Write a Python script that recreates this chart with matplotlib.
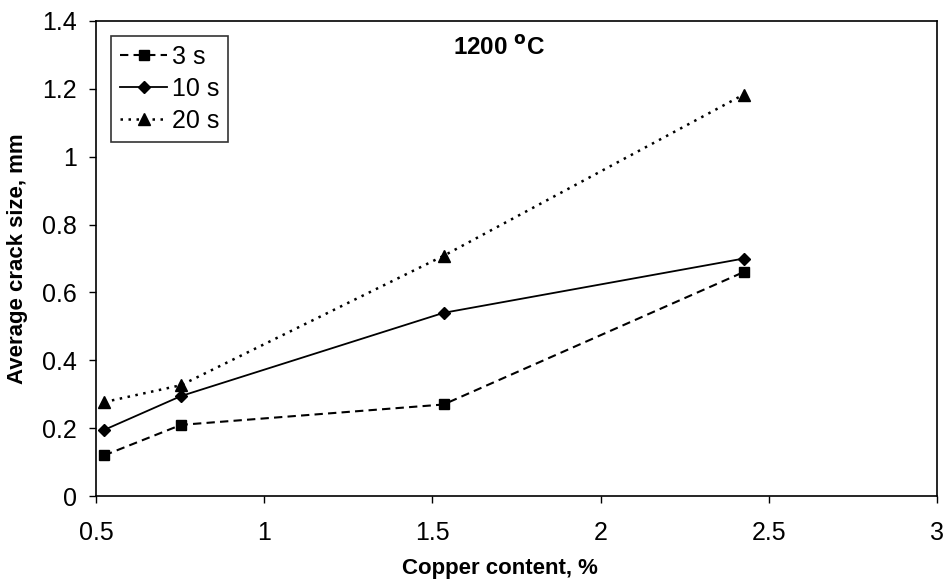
import matplotlib.pyplot as plt

plt.rcParams['font.family'] = ['Liberation Sans', 'DejaVu Sans']

# Copper content (%) and average crack size (mm) at 1200 C
copper = [0.524, 0.753, 1.533, 2.425]
crack_3s = [0.12, 0.21, 0.27, 0.66]
crack_10s = [0.195, 0.295, 0.54, 0.70]
crack_20s = [0.277, 0.327, 0.708, 1.183]

xticks = [0.5, 1, 1.5, 2, 2.5, 3]
yticks = [0, 0.2, 0.4, 0.6, 0.8, 1, 1.2, 1.4]
xtick_labels = ['0.5', '1', '1.5', '2', '2.5', '3']
ytick_labels = ['0', '0.2', '0.4', '0.6', '0.8', '1', '1.2', '1.4']

fig = plt.figure(figsize=(9.47, 5.83), dpi=100)
ax = fig.add_axes([0.1014, 0.149, 0.888, 0.815])

ax.plot(copper, crack_3s, color='black', linestyle=(0, (4, 2.5)), lw=1.5,
        marker='s', ms=7, label='3 s')
ax.plot(copper, crack_10s, color='black', linestyle='-', lw=1.3,
        marker='D', ms=6, label='10 s')
ax.plot(copper, crack_20s, color='black', linestyle=(0, (1, 2.2)), lw=1.8,
        marker='^', ms=8, label='20 s')

ax.set_xlim(0.5, 3)
ax.set_ylim(0, 1.4)
ax.set_xticks(xticks)
ax.set_xticklabels(xtick_labels)
ax.set_yticks(yticks)
ax.set_yticklabels(ytick_labels)
ax.tick_params(direction='out', length=5, width=1, labelsize=18)
ax.tick_params(axis='x', pad=13)
ax.tick_params(axis='y', pad=9)

for sp in ax.spines.values():
    sp.set_linewidth(1.2)

ax.set_xlabel('Copper content, %', fontsize=16, fontweight='bold', labelpad=6)
ax.xaxis.set_label_coords(0.48, -0.13)
ax.set_ylabel('Average crack size, mm', fontsize=16, fontweight='bold', labelpad=10)

ax.text(1.56, 1.3, '1200 $^{\\mathbf{o}}$C', fontsize=17.5, fontweight='bold')

leg = ax.legend(loc='upper left', fontsize=18, frameon=True, fancybox=False,
                handlelength=1.9, handletextpad=0.2, borderpad=0.35,
                labelspacing=0.33, borderaxespad=0.6)
leg.get_frame().set_edgecolor('black')
leg.get_frame().set_linewidth(1.2)

fig.savefig('out.png', dpi=100)
